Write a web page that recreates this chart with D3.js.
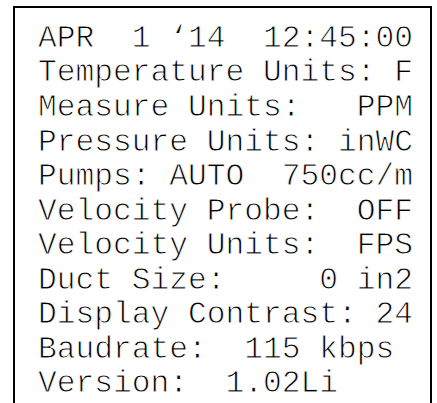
<!DOCTYPE html>
<html>
<head>
<meta charset="utf-8">
<script src="https://cdn.jsdelivr.net/npm/d3@7"></script>
<style>
  body { margin: 0; background: #fff; }
  svg { display: block; }
  text { font-family: "Liberation Mono", "DejaVu Sans Mono", monospace; white-space: pre; }
</style>
</head>
<body>
<div id="chart"></div>
<script>
// DATOS
const labels = ["APR", "Temperature Units:", "Measure Units:", "Pressure Units:", "Pumps: AUTO",
  "Velocity Probe:", "Velocity Units:", "Duct Size:", "Display Contrast:", "Baudrate:", "Version:"]
const values = ["1 \u201814  12:45:00", "F", "PPM", "inWC", "750cc/m",
  "OFF", "FPS", "0 in2", "24", "115 kbps", "1.02Li"]
// column where value ends (right aligned display)
const valueEnd = [20, 20, 20, 20, 20, 20, 20, 20, 20, 19, 16]

const width = 437
const height = 403
const cols = 20

const svg = d3.select("#chart").append("svg").attr("width", width).attr("height", height)

// ESCALAS
const x = d3.scaleLinear().domain([0, cols]).range([38, 413])
const y = d3.scaleBand().domain(d3.range(labels.length)).range([20, 400])

// marco
svg.append("path")
  .attr("d", `M14,${height + 5}V7H431V${height + 5}`)
  .attr("fill", "none").attr("stroke", "#000").attr("stroke-width", 2)

const rows = labels.map((l, i) => {
  const end = valueEnd[i]
  const gap = Math.max(1, end - l.length - values[i].length)
  return l + " ".repeat(gap) + values[i]
})

// trazo blanco encima para afinar la letra (parecido a Courier)
svg.selectAll("text.row").data(rows).enter().append("text")
  .attr("class", "row")
  .attr("x", x(0))
  .attr("y", (d, i) => y(i) + y.bandwidth() * 0.78)
  .attr("font-size", 31.25)
  .attr("fill", "#000")
  .attr("stroke", "#fff")
  .attr("stroke-width", 0.9)
  .text(d => d)
</script>
</body>
</html>
